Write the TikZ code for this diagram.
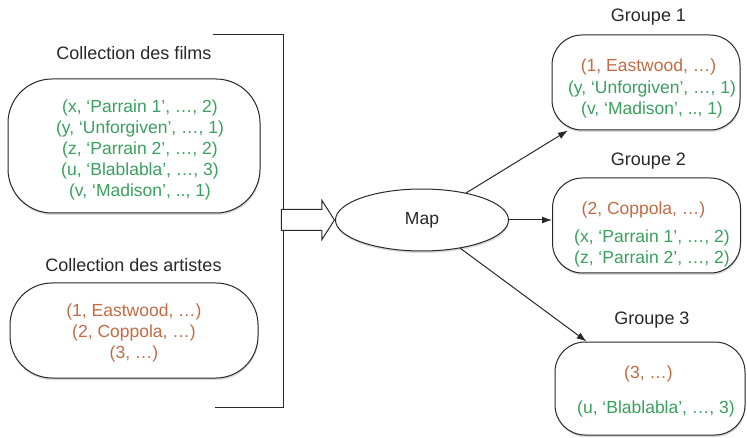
\documentclass[tikz,border=0pt]{standalone}
\usepackage{fontspec}
\setmainfont{Liberation Sans}
\usepackage{xcolor}
\usepackage{tikz}
\usetikzlibrary{shapes, arrows.meta, shadows}
\definecolor{filmgreen}{RGB}{58,160,95}
\definecolor{artistbrown}{RGB}{192,108,68}
\definecolor{inkgray}{RGB}{40,40,40}
\tikzstyle{collection} = [rectangle, draw=inkgray, fill=white, line width=1pt,
    rounded corners=44pt, drop shadow={opacity=0.3, shadow xshift=0.5pt, shadow yshift=-2pt}]
\tikzstyle{groupbox} = [collection, rounded corners=30pt, minimum width=188pt, minimum height=95pt]
\tikzstyle{title} = [text=inkgray, font=\fontsize{18}{21}\selectfont, anchor=base]
\tikzstyle{film} = [text=filmgreen, align=center, font=\fontsize{17.5}{21}\selectfont]
\tikzstyle{artist} = [text=artistbrown, align=center, font=\fontsize{17.5}{21}\selectfont]
\tikzstyle{mapper} = [ellipse, draw=inkgray, fill=white, line width=1pt, text=inkgray,
    minimum width=173pt, minimum height=62pt, inner sep=0pt, font=\fontsize{17.5}{21}\selectfont,
    drop shadow={opacity=0.3, shadow xshift=0.5pt, shadow yshift=-2pt}]
\tikzstyle{push} = [single arrow, draw=inkgray, fill=white, line width=1pt,
    inner ysep=10pt, inner xsep=0pt, minimum height=53pt,
    single arrow head extend=9pt, single arrow tip angle=115]
\tikzstyle{line} = [draw=inkgray, line width=1pt, -{Latex[length=10pt, width=7pt]}]

\begin{document}
\begin{tikzpicture}[x=1pt, y=-1pt]
    \useasboundingbox (0,0) rectangle (747,438);
    % Collections
    \node [title] (filmstitle) at (134,60) {Collection des films};
    \node [collection, minimum width=252pt, minimum height=134pt] (films) at (134,146) {};
    \node [film] (filmsdata) at (140,149.5) {(x, ‘Parrain 1’, …, 2)\\(y, ‘Unforgiven’, …, 1)\\(z, ‘Parrain 2’, …, 2)\\(u, ‘Blablabla’, …, 3)\\(v, ‘Madison’, .., 1)};
    \node [title] (artiststitle) at (133.5,272) {Collection des artistes};
    \node [collection, minimum width=248pt, minimum height=95pt, rounded corners=42pt] (artists) at (134,330.5) {};
    \node [artist] (artistsdata) at (134,332.5) {(1, Eastwood, …)\\(2, Coppola, …)\\(3, …)};
    \draw [draw=inkgray, line width=1pt] (213,35) -- (283,35) -- (283,407) -- (215,407);

    % Map
    \node [mapper] (map) at (422,220) {Map};
    \node [push, anchor=tip] (push) at (map.west) {};

    % Groups
    \node [title] (g1title) at (648.5,21.7) {Groupe 1};
    \node [groupbox] (g1) at (646,82.5) {};
    \node [artist] (g1artist) at (648.5,66.5) {(1, Eastwood, …)};
    \node [film] (g1films) at (652,99) {(y, ‘Unforgiven’, …, 1)\\(v, ‘Madison’, .., 1)};

    \node [title] (g2title) at (648.5,166) {Groupe 2};
    \node [groupbox] (g2) at (646.5,225.5) {};
    \node [artist] (g2artist) at (643.5,209.5) {(2, Coppola, …)};
    \node [film] (g2films) at (652,248.5) {(x, ‘Parrain 1’, …, 2)\\(z, ‘Parrain 2’, …, 2)};

    \node [title] (g3title) at (652,324) {Groupe 3};
    \node [groupbox, minimum width=190pt, minimum height=93pt] (g3) at (650,388.5) {};
    \node [artist] (g3artist) at (648.5,373.5) {(3, …)};
    \node [film] (g3films) at (656,408.5) {(u, ‘Blablabla’, …, 3)};

    % Edges
    \path [line] (map) -- (g1);
    \path [line] (map.east) -- (map.east -| g2.west);
    \path [line] (map) -- (g3);
\end{tikzpicture}
\end{document}
